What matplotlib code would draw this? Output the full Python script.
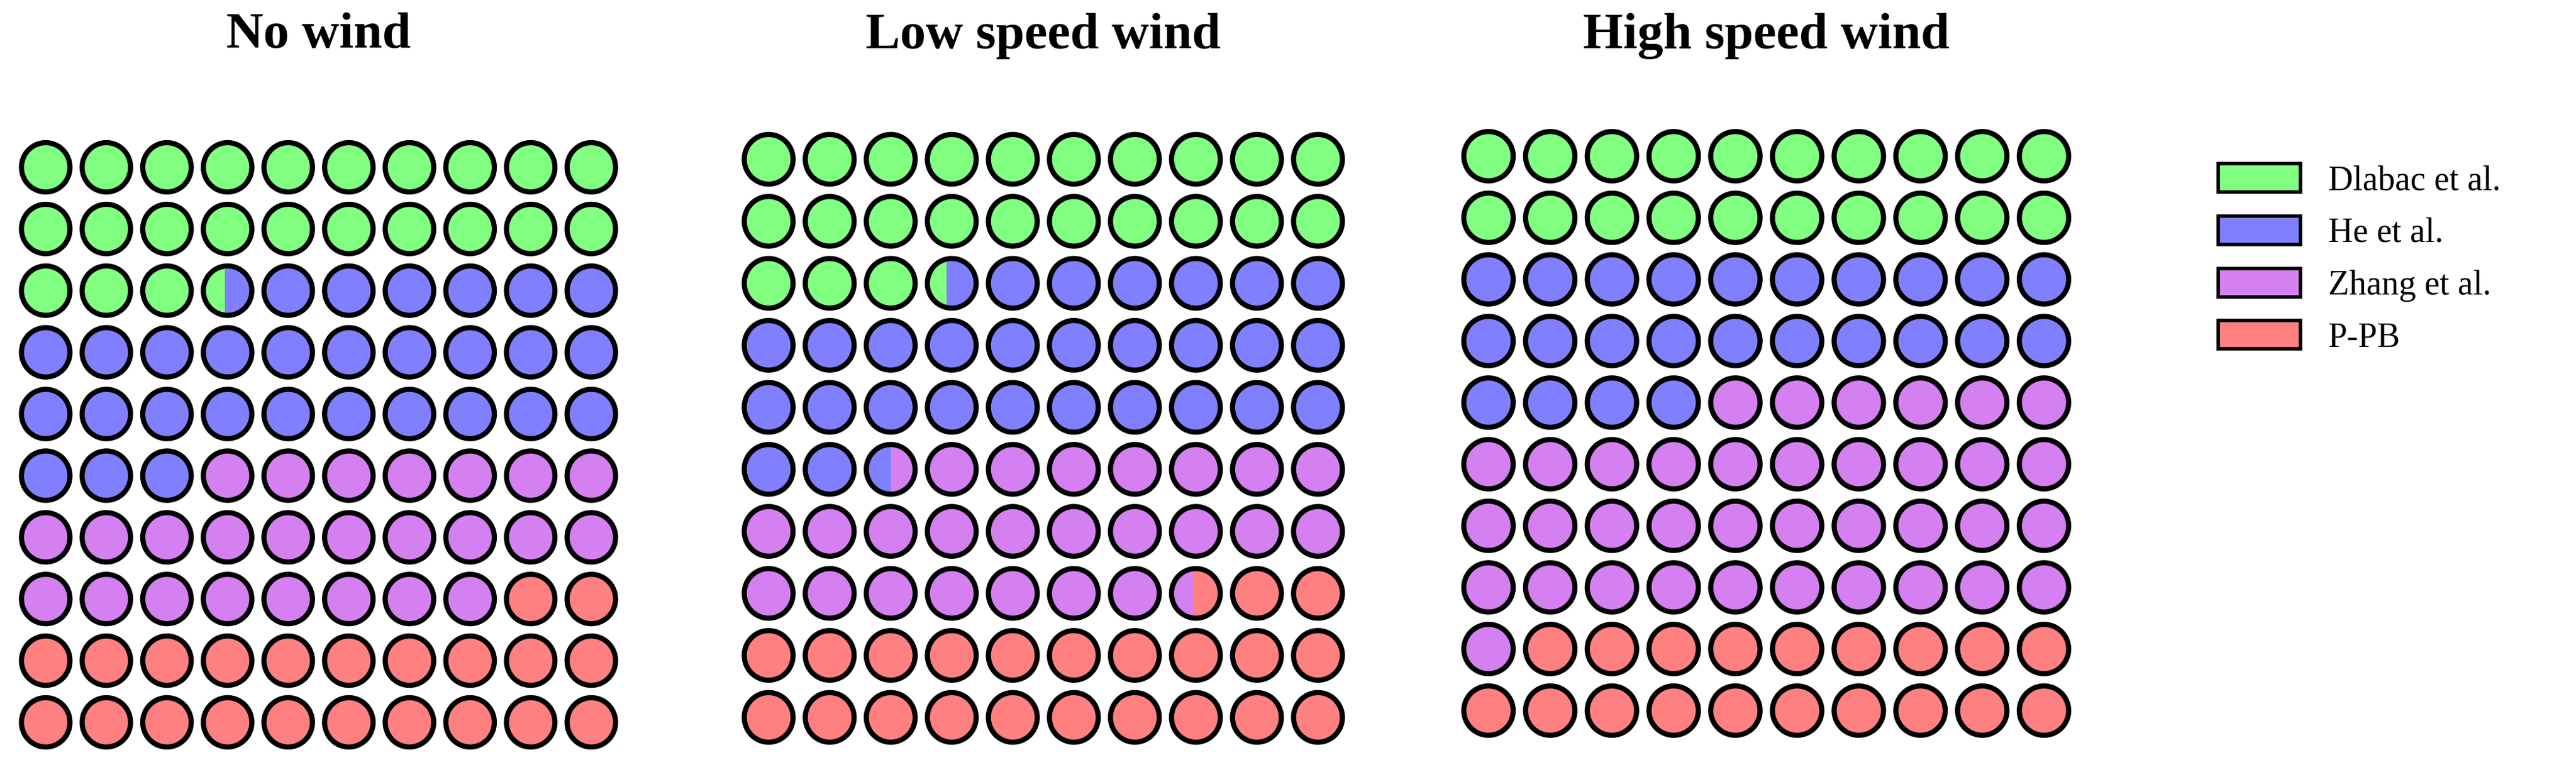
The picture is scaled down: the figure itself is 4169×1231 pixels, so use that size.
import numpy as np
import matplotlib.pyplot as plt
from matplotlib.patches import Circle, Rectangle, Patch

plt.rcParams["font.family"] = ["Liberation Serif", "DejaVu Serif"]

# Data: share (out of 100 dots) per method, per wind condition
panels = ["No wind", "Low speed wind", "High speed wind"]
methods = ["Dlabac et al.", "He et al.", "Zhang et al.", "P-PB"]
no_wind = [23.45, 29.55, 25.0, 22.0]
low_wind = [23.4, 29.1, 24.95, 22.55]
high_wind = [20.0, 24.0, 37.0, 19.0]
colors = ["#80ff80", "#8080ff", "#d580f0", "#ff8080"]

W, H = 4169, 1231
fig = plt.figure(figsize=(W / 100, H / 100), dpi=100)

# pixel extents of dot centres for each panel: (x_first, x_last, y_first, y_last)
extents = [(74, 957, 271, 1170), (1244, 2133, 258, 1162), (2409, 3308, 253, 1151)]
title_y = 58


def draw_waffle(ax, values):
    bounds = np.concatenate([[0], np.cumsum(values)])
    for i in range(100):
        row, col = divmod(i, 10)
        circ = Circle((col, row), 0.4, facecolor="none", edgecolor="black",
                      lw=6, zorder=3)
        ax.add_patch(circ)
        # vertical split: fill each category's fraction of the cell left->right
        for k, c in enumerate(colors):
            lo = max(bounds[k], i)
            hi = min(bounds[k + 1], i + 1)
            if hi <= lo:
                continue
            x0 = col - 0.4 + 0.8 * (lo - i)
            rect = Rectangle((x0, row - 0.4), 0.8 * (hi - lo), 0.8,
                             facecolor=c, edgecolor="none", zorder=2)
            ax.add_patch(rect)
            rect.set_clip_path(Circle((col, row), 0.4, transform=ax.transData))


for name, vals, (x0, x1, y0, y1) in zip(panels, [no_wind, low_wind, high_wind], extents):
    sx = (x1 - x0) / 9
    sy = (y1 - y0) / 9
    left = (x0 - 0.5 * sx) / W
    bottom = 1 - (y1 + 0.5 * sy) / H
    ax = fig.add_axes([left, bottom, 10 * sx / W, 10 * sy / H])
    ax.set_xlim(-0.5, 9.5)
    ax.set_ylim(9.5, -0.5)
    ax.axis("off")
    draw_waffle(ax, vals)
    fig.text((x0 + x1) / 2 / W, 1 - title_y / H, name, ha="center", va="center",
             fontsize=60, fontweight="bold")

handles = [Patch(facecolor=c, edgecolor="black", lw=4) for c in colors]
fig.legend(handles, methods, loc="upper left",
           bbox_to_anchor=(3540 / W, 1 - 215 / H), frameon=False,
           fontsize=40, handlelength=2.4, handleheight=0.9,
           labelspacing=0.55, handletextpad=0.8)

fig.savefig("out.png", dpi=100, facecolor="white")
